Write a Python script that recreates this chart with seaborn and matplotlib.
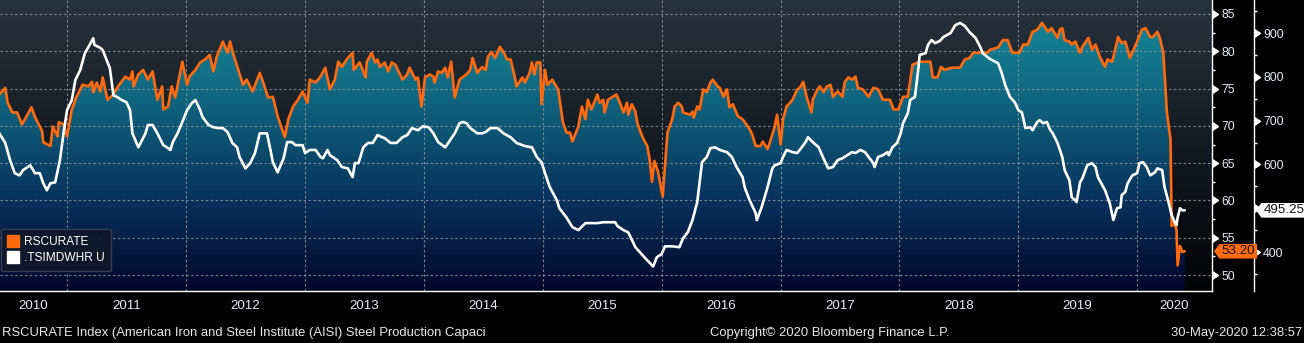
import numpy as np
import pandas as pd
import matplotlib
matplotlib.use("Agg")
import matplotlib.pyplot as plt
import matplotlib.dates as mdates
import matplotlib.transforms as mtransforms
from matplotlib.colors import LinearSegmentedColormap
from matplotlib.lines import Line2D
from matplotlib.patches import PathPatch
from matplotlib.path import Path
from matplotlib.ticker import FixedLocator, NullFormatter, FuncFormatter
import seaborn as sns

# ---------------------------------------------------------------------------
# RSCURATE: AISI raw steel capacity utilisation (%), dates as decimal years
# ---------------------------------------------------------------------------
rscurate_t = [
    2010.43, 2010.48, 2010.50, 2010.54, 2010.58, 2010.62, 2010.66, 2010.70, 2010.73, 2010.79, 2010.80, 2010.86, 2010.88, 2010.92, 2010.93, 2010.97,
    2011.00, 2011.04, 2011.08, 2011.13, 2011.18, 2011.21, 2011.22, 2011.25, 2011.28, 2011.30, 2011.34, 2011.39, 2011.43, 2011.49, 2011.53, 2011.55, 2011.56, 2011.60, 2011.64, 2011.68, 2011.72, 2011.76, 2011.80, 2011.81, 2011.85, 2011.88, 2011.91, 2011.97,
    2012.01, 2012.03, 2012.08, 2012.12, 2012.16, 2012.20, 2012.23, 2012.26, 2012.31, 2012.35, 2012.37, 2012.40, 2012.44, 2012.48, 2012.51, 2012.56, 2012.62, 2012.65, 2012.69, 2012.73, 2012.77, 2012.83, 2012.86, 2012.90, 2012.94, 2012.98,
    2013.02, 2013.04, 2013.09, 2013.13, 2013.17, 2013.21, 2013.25, 2013.28, 2013.31, 2013.35, 2013.40, 2013.41, 2013.46, 2013.51, 2013.52, 2013.56, 2013.59, 2013.61, 2013.63, 2013.67, 2013.70, 2013.73, 2013.76, 2013.82, 2013.86, 2013.88, 2013.93, 2013.95, 2013.98,
    2014.01, 2014.05, 2014.08, 2014.09, 2014.12, 2014.15, 2014.18, 2014.20, 2014.23, 2014.26, 2014.30, 2014.33, 2014.36, 2014.39, 2014.41, 2014.45, 2014.49, 2014.52, 2014.54, 2014.57, 2014.60, 2014.64, 2014.67, 2014.70, 2014.73, 2014.77, 2014.78, 2014.83, 2014.85, 2014.89, 2014.91, 2014.93, 2014.95, 2014.98, 2014.99,
    2015.02, 2015.04, 2015.08, 2015.13, 2015.17, 2015.20, 2015.23, 2015.25, 2015.30, 2015.33, 2015.36, 2015.38, 2015.41, 2015.46, 2015.48, 2015.51, 2015.52, 2015.55, 2015.59, 2015.62, 2015.65, 2015.68, 2015.71, 2015.72, 2015.75, 2015.78, 2015.80, 2015.84, 2015.88, 2015.90, 2015.92, 2015.94, 2015.97,
    2016.01, 2016.05, 2016.09, 2016.11, 2016.14, 2016.17, 2016.18, 2016.24, 2016.26, 2016.27, 2016.30, 2016.32, 2016.35, 2016.38, 2016.41, 2016.43, 2016.47, 2016.49, 2016.52, 2016.55, 2016.57, 2016.60, 2016.64, 2016.68, 2016.73, 2016.76, 2016.79, 2016.83, 2016.85, 2016.89, 2016.91, 2016.95, 2016.97,
    2017.00, 2017.02, 2017.05, 2017.08, 2017.10, 2017.14, 2017.16, 2017.19, 2017.22, 2017.26, 2017.27, 2017.31, 2017.33, 2017.36, 2017.39, 2017.42, 2017.44, 2017.48, 2017.52, 2017.54, 2017.57, 2017.60, 2017.63, 2017.65, 2017.69, 2017.74, 2017.78, 2017.82, 2017.86, 2017.92, 2017.95, 2017.99,
    2018.03, 2018.07, 2018.11, 2018.17, 2018.26, 2018.28, 2018.32, 2018.35, 2018.38, 2018.44, 2018.51, 2018.55, 2018.59, 2018.62, 2018.74, 2018.76, 2018.83, 2018.87, 2018.91, 2018.95,
    2019.01, 2019.04, 2019.08, 2019.12, 2019.16, 2019.20, 2019.22, 2019.25, 2019.28, 2019.33, 2019.35, 2019.37, 2019.39, 2019.43, 2019.45, 2019.48, 2019.52, 2019.54, 2019.59, 2019.62, 2019.65, 2019.69, 2019.73, 2019.75, 2019.79, 2019.84, 2019.87, 2019.90, 2019.94,
    2020.00, 2020.04, 2020.07, 2020.11, 2020.13, 2020.17, 2020.19, 2020.22, 2020.25, 2020.28, 2020.29, 2020.30, 2020.33, 2020.34, 2020.36, 2020.38, 2020.40,
]
rscurate_v = [
    74.2, 75.1, 73.1, 71.8, 71.8, 70.2, 71.3, 72.5, 71.2, 69.3, 67.8, 67.3, 69.9, 68.6, 70.5, 70.2,
    68.6, 72.2, 73.9, 75.5, 75.3, 75.9, 74.5, 75.8, 74.6, 76.5, 73.5, 74.2, 75.3, 76.6, 76.2, 77.3, 75.3, 76.9, 77.5, 76.2, 77.3, 73.5, 75.3, 72.2, 72.6, 75.3, 73.8, 78.6,
    75.5, 76.6, 77.5, 78.5, 78.9, 79.5, 77.3, 79.3, 81.3, 79.8, 81.3, 79.5, 77.5, 75.5, 76.2, 74.6, 77.1, 75.8, 73.8, 73.9, 71.3, 68.5, 70.9, 72.6, 73.5, 74.6,
    73.1, 76.2, 75.8, 76.6, 77.8, 74.9, 76.2, 78.6, 77.9, 78.9, 79.8, 77.5, 78.5, 76.5, 78.6, 79.8, 78.5, 78.9, 77.9, 78.5, 77.3, 78.5, 78.2, 76.2, 76.9, 77.8, 76.2, 76.5, 72.6,
    76.5, 76.9, 76.6, 75.8, 77.3, 77.1, 77.8, 76.5, 78.6, 73.8, 76.2, 76.6, 76.9, 77.5, 79.1, 77.1, 77.9, 77.5, 79.3, 79.9, 79.1, 80.6, 79.9, 78.9, 78.9, 76.2, 75.3, 76.5, 75.8, 77.1, 78.5, 76.9, 78.5, 78.5, 72.9,
    77.5, 75.5, 76.2, 74.9, 70.5, 69.1, 69.1, 67.9, 69.9, 72.6, 70.9, 73.5, 72.2, 74.2, 73.1, 73.5, 71.8, 73.5, 73.9, 74.2, 73.1, 71.8, 73.1, 71.5, 72.9, 71.9, 70.2, 68.5, 67.3, 65.5, 62.5, 65.3, 63.9,
    60.5, 69.1, 70.9, 72.6, 73.1, 72.6, 71.8, 71.5, 71.9, 71.1, 72.6, 72.2, 74.9, 74.5, 75.8, 76.2, 75.3, 75.1, 73.9, 74.9, 72.5, 72.9, 71.3, 70.9, 69.8, 68.9, 67.3, 67.3, 67.9, 66.9, 67.8, 69.9, 71.5,
    67.5, 70.9, 72.6, 73.1, 73.5, 74.9, 75.1, 75.9, 73.8, 71.8, 73.5, 74.9, 75.3, 74.5, 75.3, 75.5, 73.9, 74.6, 73.9, 75.9, 76.5, 76.2, 76.6, 75.1, 74.9, 73.9, 75.1, 74.9, 73.5, 73.5, 72.2, 72.2,
    73.9, 73.9, 78.2, 78.6, 78.6, 76.5, 76.5, 77.9, 77.5, 77.8, 77.8, 78.9, 79.1, 79.8, 79.8, 80.2, 80.5, 81.5, 81.5, 79.8,
    79.8, 80.9, 80.9, 82.6, 82.9, 83.8, 83.3, 82.6, 83.1, 81.8, 82.9, 83.1, 81.5, 81.3, 80.9, 81.3, 79.8, 80.6, 81.8, 80.2, 80.9, 79.1, 77.9, 78.9, 78.6, 81.9, 81.1, 81.3, 79.1,
    81.3, 82.9, 83.1, 81.9, 81.9, 82.6, 81.8, 79.8, 71.8, 68.2, 56.6, 57.1, 56.2, 51.3, 53.9, 53.1, 53.2,
]

# ---------------------------------------------------------------------------
# .TSIMDWHR U: weekly raw steel production (right-hand outer scale)
# ---------------------------------------------------------------------------
tsimdwhr_t = [
    2010.43, 2010.48, 2010.52, 2010.56, 2010.60, 2010.63, 2010.69, 2010.73, 2010.77, 2010.80, 2010.83, 2010.86, 2010.90, 2010.94, 2010.97,
    2011.00, 2011.04, 2011.07, 2011.11, 2011.15, 2011.19, 2011.22, 2011.23, 2011.28, 2011.30, 2011.34, 2011.36, 2011.39, 2011.42, 2011.46, 2011.50, 2011.53, 2011.55, 2011.60, 2011.63, 2011.66, 2011.68, 2011.72, 2011.76, 2011.81, 2011.84, 2011.87, 2011.89, 2011.93, 2011.97,
    2012.01, 2012.05, 2012.08, 2012.12, 2012.14, 2012.19, 2012.23, 2012.27, 2012.31, 2012.35, 2012.39, 2012.43, 2012.45, 2012.50, 2012.54, 2012.58, 2012.62, 2012.68, 2012.71, 2012.73, 2012.77, 2012.82, 2012.85, 2012.89, 2012.92, 2012.98,
    2013.00, 2013.04, 2013.09, 2013.13, 2013.15, 2013.19, 2013.21, 2013.27, 2013.31, 2013.36, 2013.40, 2013.42, 2013.45, 2013.49, 2013.53, 2013.57, 2013.61, 2013.65, 2013.67, 2013.72, 2013.77, 2013.82, 2013.86, 2013.90, 2013.95, 2013.99,
    2014.04, 2014.08, 2014.12, 2014.18, 2014.22, 2014.26, 2014.30, 2014.33, 2014.36, 2014.39, 2014.45, 2014.49, 2014.52, 2014.56, 2014.62, 2014.67, 2014.73, 2014.78, 2014.83, 2014.85, 2014.91, 2014.95, 2014.99,
    2015.02, 2015.06, 2015.12, 2015.14, 2015.20, 2015.25, 2015.30, 2015.36, 2015.46, 2015.51, 2015.61, 2015.63, 2015.68, 2015.72, 2015.78, 2015.82, 2015.88, 2015.93, 2015.96,
    2016.00, 2016.03, 2016.09, 2016.15, 2016.18, 2016.22, 2016.26, 2016.30, 2016.34, 2016.38, 2016.41, 2016.45, 2016.49, 2016.55, 2016.59, 2016.63, 2016.68, 2016.70, 2016.74, 2016.79, 2016.80, 2016.84, 2016.89, 2016.93, 2016.95,
    2017.00, 2017.02, 2017.05, 2017.10, 2017.14, 2017.16, 2017.21, 2017.23, 2017.27, 2017.32, 2017.36, 2017.40, 2017.44, 2017.48, 2017.52, 2017.56, 2017.60, 2017.63, 2017.67, 2017.71, 2017.74, 2017.78, 2017.79, 2017.82, 2017.86, 2017.90, 2017.91, 2017.94, 2017.98,
    2018.01, 2018.03, 2018.07, 2018.09, 2018.13, 2018.16, 2018.17, 2018.22, 2018.24, 2018.27, 2018.30, 2018.34, 2018.37, 2018.43, 2018.47, 2018.51, 2018.55, 2018.59, 2018.64, 2018.68, 2018.70, 2018.76, 2018.83, 2018.86, 2018.89, 2018.93, 2018.97,
    2019.00, 2019.03, 2019.06, 2019.10, 2019.12, 2019.16, 2019.18, 2019.21, 2019.24, 2019.27, 2019.29, 2019.33, 2019.37, 2019.39, 2019.43, 2019.45, 2019.48, 2019.49, 2019.52, 2019.54, 2019.58, 2019.62, 2019.65, 2019.67, 2019.73, 2019.77, 2019.80, 2019.83, 2019.86, 2019.87, 2019.90, 2019.92, 2019.96,
    2020.00, 2020.02, 2020.05, 2020.08, 2020.11, 2020.15, 2020.17, 2020.21, 2020.23, 2020.26, 2020.29, 2020.32, 2020.33, 2020.34, 2020.36, 2020.38, 2020.40,
]
tsimdwhr_v = [
    671, 649, 610, 580, 575, 587, 598, 580, 580, 557, 541, 557, 559, 610, 671,
    724, 747, 793, 815, 854, 873, 888, 873, 866, 861, 834, 820, 758, 754, 747, 742, 724, 671, 639, 655, 671, 690, 690, 671, 644, 639, 633, 651, 671, 697,
    724, 740, 747, 724, 708, 690, 685, 683, 683, 674, 649, 639, 617, 591, 603, 626, 671, 671, 633, 605, 582, 614, 651, 651, 644, 644,
    626, 633, 633, 617, 614, 633, 621, 610, 594, 591, 571, 603, 603, 639, 649, 649, 667, 662, 660, 649, 649, 662, 667, 683, 678, 687,
    685, 671, 651, 639, 655, 671, 694, 697, 694, 683, 671, 671, 674, 683, 683, 671, 662, 649, 644, 642, 639, 617, 605,
    580, 548, 518, 500, 479, 457, 450, 466, 466, 468, 468, 459, 450, 445, 411, 399, 381, 367, 388,
    395, 413, 413, 411, 431, 445, 473, 514, 605, 617, 637, 639, 633, 628, 617, 594, 571, 546, 518, 489, 473, 502, 548, 591, 598,
    603, 617, 633, 628, 626, 633, 651, 662, 651, 639, 614, 591, 594, 610, 614, 621, 628, 626, 633, 628, 617, 603, 594, 617, 621, 628, 621, 639, 649,
    671, 694, 717, 747, 754, 822, 850, 854, 873, 884, 877, 882, 891, 900, 918, 923, 916, 902, 889, 868, 854, 841, 831, 809, 781, 754, 742,
    724, 719, 683, 685, 678, 697, 701, 694, 697, 678, 671, 649, 617, 587, 564, 525, 518, 514, 559, 569, 598, 603, 594, 571, 541, 511, 473, 500, 502, 530, 537, 557, 575,
    580, 603, 605, 594, 575, 582, 591, 587, 548, 518, 484, 466, 461, 479, 500, 495, 495.25,
]

util_ticks = [50, 55, 60, 65, 70, 75, 80, 85]
prod_ticks = [400, 500, 600, 700, 800, 900]
years = list(range(2010, 2021))
last_util = 53.20
last_prod = 495.25

series_names = ["RSCURATE", ".TSIMDWHR U"]
footer_left = "RSCURATE Index (American Iron and Steel Institute (AISI) Steel Production Capaci"
footer_mid = "Copyright\u00a9 2020 Bloomberg Finance L.P."
footer_right = "30-May-2020 12:38:57"

ORANGE = "#ff6a0e"
TICK_TXT = "#e4ebf2"
GRID = "#8f969e"


def to_dates(t):
    t = np.asarray(t, dtype=float)
    yr = np.floor(t).astype(int)
    start = pd.to_datetime([f"{y}-01-01" for y in yr])
    end = pd.to_datetime([f"{y + 1}-01-01" for y in yr])
    return start + (end - start) * (t - yr)


dates_u = to_dates(rscurate_t)
dates_p = to_dates(tsimdwhr_t)
x_lo, x_hi = pd.Timestamp("2010-06-09"), pd.Timestamp("2020-08-18")
u_lo, u_hi = 47.87, 86.87
p_lo, p_hi = 311.0, 975.4

sns.set_theme(style="dark")
plt.rcParams["font.family"] = ["Liberation Sans", "DejaVu Sans"]

fig = plt.figure(figsize=(13.04, 3.43), dpi=100, facecolor="black")
ax = fig.add_axes([0, 52 / 343, 1212 / 1304, 291 / 343])
ax.set_facecolor("black")

# --- capacity utilisation line (inner scale) --------------------------------
sns.lineplot(x=dates_u, y=rscurate_v, ax=ax, color=ORANGE, linewidth=1.9,
             estimator=None, sort=False, legend=False, zorder=4)

# gradient area under the utilisation line
area = ax.fill_between(dates_u, rscurate_v, u_lo, facecolor="none", edgecolor="none")
clip = PathPatch(area.get_paths()[0], transform=ax.transData,
                 facecolor="none", edgecolor="none")
ax.add_patch(clip)

ramp = np.linspace(0, 1, 256).reshape(-1, 1)
bg_cmap = LinearSegmentedColormap.from_list(
    "bg", [(0, "#020304"), (0.5, "#141a20"), (1, "#27333e")])
fill_cmap = LinearSegmentedColormap.from_list(
    "fill", [(0, "#03062a"), (0.3, "#08305a"), (0.66, "#10657e"), (1, "#178d9d")])
ax.imshow(ramp, cmap=bg_cmap, origin="lower", extent=[0, 1, 0, 1],
          transform=ax.transAxes, aspect="auto", zorder=0)
grad = ax.imshow(ramp, cmap=fill_cmap, origin="lower", extent=[0, 1, 0, 1],
                 transform=ax.transAxes, aspect="auto", zorder=1)
grad.set_clip_path(clip)

ax.set_xlim(x_lo, x_hi)
ax.set_ylim(u_lo, u_hi)
ax.set_xlabel("")
ax.set_ylabel("")

# --- production line (outer scale) -----------------------------------------
ax2 = ax.twinx()
ax2.patch.set_visible(False)
sns.lineplot(x=dates_p, y=tsimdwhr_v, ax=ax2, color="white", linewidth=1.9,
             estimator=None, sort=False, legend=False, zorder=5)
ax2.set_ylim(p_lo, p_hi)
ax2.set_xlim(x_lo, x_hi)
ax2.set_ylabel("")
ax2.grid(False)

# --- spines ------------------------------------------------------------------
for s in ["left", "top"]:
    ax.spines[s].set_visible(False)
for s in ["left", "top", "bottom"]:
    ax2.spines[s].set_visible(False)
for sp in [ax.spines["right"], ax.spines["bottom"], ax2.spines["right"]]:
    sp.set_visible(True)
    sp.set_color("white")
    sp.set_linewidth(1.0)
ax2.spines["right"].set_position(("outward", 42 * 72 / 100))

# --- y ticks -----------------------------------------------------------------
ax.yaxis.tick_right()
ax.yaxis.set_major_locator(FixedLocator(util_ticks))
ax.yaxis.set_minor_locator(FixedLocator([v + 2.5 for v in util_ticks[:-1]]))
ax.tick_params(axis="y", which="major", length=0, pad=6.6,
               labelsize=8.8, labelcolor=TICK_TXT)
ax.tick_params(axis="y", which="minor", length=2.4, width=1, color="white",
               direction="out")

# the production label hidden under the last-value tag is left blank
ax2.yaxis.set_major_locator(FixedLocator(prod_ticks))
ax2.yaxis.set_major_formatter(
    FuncFormatter(lambda v, pos: "" if abs(v - last_prod) < 25 else f"{v:.0f}"))
ax2.yaxis.set_minor_locator(FixedLocator([v + 50 for v in prod_ticks] + [prod_ticks[0] - 50]))
ax2.tick_params(axis="y", which="major", length=0, pad=6.6,
                labelsize=8.8, labelcolor=TICK_TXT)
ax2.tick_params(axis="y", which="minor", length=2.4, width=1, color="white",
                direction="out")

# small pointer triangles in front of each labelled tick
inner_tr = mtransforms.blended_transform_factory(ax.transAxes, ax.transData)
outer_tr = (mtransforms.blended_transform_factory(ax2.transAxes, ax2.transData)
            + mtransforms.ScaledTranslation(42 / 100, 0, fig.dpi_scale_trans))
ax.plot([1.0] * len(util_ticks), util_ticks, transform=inner_tr, ls="none",
        marker=9, ms=5.5, color="white", clip_on=False, zorder=6)
ax2.plot([1.0] * len(prod_ticks), prod_ticks, transform=outer_tr, ls="none",
         marker=9, ms=5.5, color="white", clip_on=False, zorder=6)

# --- x axis: quarterly ticks, year separators, centred year labels ---------
ax.xaxis.set_major_locator(mdates.YearLocator())
ax.xaxis.set_major_formatter(NullFormatter())
ax.xaxis.set_minor_locator(mdates.MonthLocator(bymonth=(1, 4, 7, 10)))
ax.xaxis.set_minor_formatter(NullFormatter())
ax.tick_params(axis="x", which="major", length=23, width=1, color="#8a8a8a",
               direction="out")
ax.tick_params(axis="x", which="minor", length=2.4, width=1, color="white",
               direction="out")

xlab_tr = mtransforms.blended_transform_factory(ax.transData, ax.transAxes)
for y in years:
    a = max(pd.Timestamp(f"{y}-01-01"), x_lo)
    b = min(pd.Timestamp(f"{y + 1}-01-01"), x_hi)
    ax.text(a + (b - a) / 2, -15 / 291, str(y), transform=xlab_tr,
            ha="center", va="center", color=TICK_TXT, fontsize=9.6)

# --- grid ----------------------------------------------------------------------
ax.set_axisbelow("line")
ax.grid(True, which="major", axis="both", color=GRID, linestyle=(0, (2.2, 2.2)),
        linewidth=0.8, alpha=0.85)

# --- last value tags -------------------------------------------------------------
def tag_box(x0, y0, width, height, mutation_size):
    hp = 0.16 * mutation_size
    vp = 0.10 * mutation_size
    x0 -= hp
    width += 2 * hp
    y0 -= vp
    height += 2 * vp
    tip = 0.36 * height
    verts = [(x0 - tip, y0 + height / 2), (x0, y0), (x0 + width, y0),
             (x0 + width, y0 + height), (x0, y0 + height),
             (x0 - tip, y0 + height / 2)]
    codes = [Path.MOVETO] + [Path.LINETO] * 4 + [Path.CLOSEPOLY]
    return Path(verts, codes)


tag_u_tr = inner_tr + mtransforms.ScaledTranslation(9.5 / 100, 0, fig.dpi_scale_trans)
tag_p_tr = outer_tr + mtransforms.ScaledTranslation(9.5 / 100, 0, fig.dpi_scale_trans)
ax2.text(1.0, last_util, f"{last_util:.2f}", transform=tag_u_tr, ha="left",
         va="center", fontsize=9.6, color="#151515",
         bbox=dict(boxstyle=tag_box, facecolor=ORANGE, edgecolor="none"),
         zorder=20, clip_on=False)
ax2.text(1.0, last_prod, f"{last_prod:.2f}", transform=tag_p_tr, ha="left",
         va="center", fontsize=9.6, color="#111111",
         bbox=dict(boxstyle=tag_box, facecolor="white", edgecolor="none"),
         zorder=20, clip_on=False)

# --- legend --------------------------------------------------------------------
handles = [Line2D([], [], ls="none", marker="s", ms=8, mfc=ORANGE, mec=ORANGE),
           Line2D([], [], ls="none", marker="s", ms=8, mfc="white", mec="white")]
leg = ax2.legend(handles, series_names, loc="lower left",
                 bbox_to_anchor=(0.0008, 0.068), frameon=True, fancybox=True,
                 facecolor="#0e1828", edgecolor="#3b4451", framealpha=0.92,
                 labelcolor="white", handlelength=0.8, handletextpad=0.5,
                 borderpad=0.6, labelspacing=0.35, borderaxespad=0,
                 prop={"size": 8.6})
leg.get_frame().set_linewidth(1.0)
leg.set_zorder(30)

# --- footer ----------------------------------------------------------------------
fig.text(2 / 1304, 10 / 343, footer_left, ha="left", va="center",
         color="#e8e8e8", fontsize=9.4)
fig.text(830 / 1304, 10 / 343, footer_mid, ha="center", va="center",
         color="#e8e8e8", fontsize=9.4)
fig.text(1302 / 1304, 10 / 343, footer_right, ha="right", va="center",
         color="#e8e8e8", fontsize=9.4)

fig.savefig("out.png", dpi=100, facecolor="black")
